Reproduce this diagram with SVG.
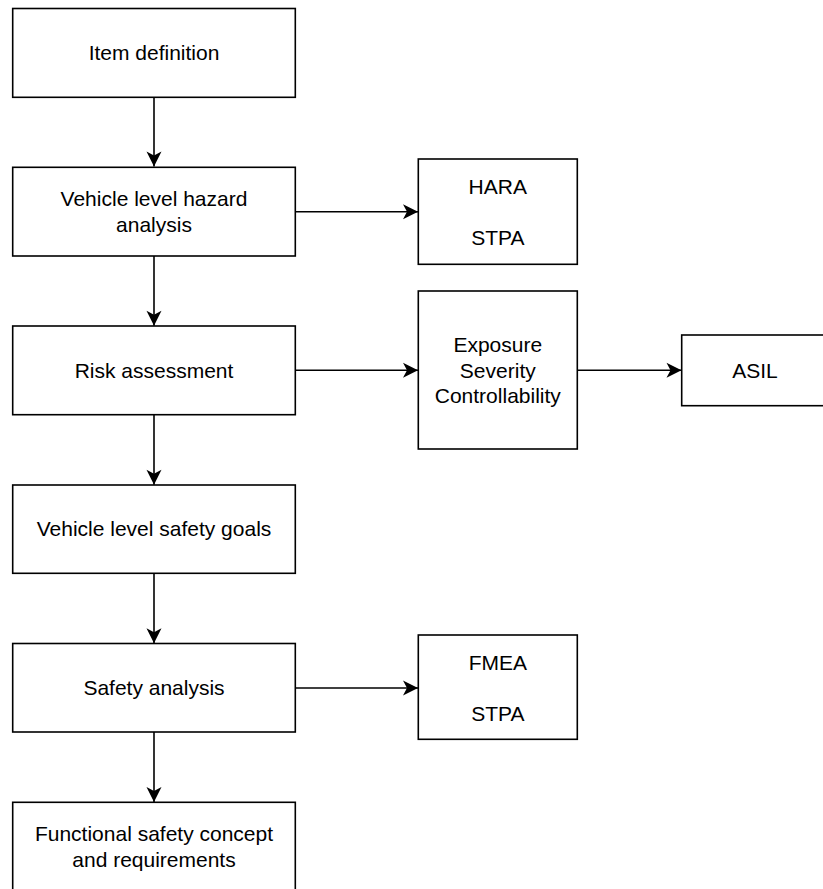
<svg xmlns="http://www.w3.org/2000/svg" width="823" height="889" viewBox="0 0 823 889">
  <style>
    .box { fill: #ffffff; stroke: #000000; stroke-width: 1.6; }
    .lbl { font-family: "Liberation Sans", Arial, Helvetica, sans-serif; font-size: 21px; fill: #000000; text-anchor: middle; }
    .edge { fill: none; stroke: #000000; stroke-width: 1.6; marker-end: url(#arrow); }
  </style>
  <defs>
    <marker id="arrow" markerUnits="userSpaceOnUse" viewBox="-16 -8 17 16" markerWidth="17" markerHeight="16" refX="0" refY="0" orient="auto">
      <path d="M0,0 L-15,-7.5 L-11,0 L-15,7.5 Z" fill="#000000"/>
    </marker>
  </defs>
  <rect width="823" height="889" fill="#ffffff"/>

  <!-- connectors -->
  <g id="connectors">
    <path class="edge" d="M154,97.3 V166.5"/>
    <path class="edge" d="M154,256 V325.8"/>
    <path class="edge" d="M154,414.7 V484.8"/>
    <path class="edge" d="M154,573.3 V643.3"/>
    <path class="edge" d="M154,732 V802"/>
    <path class="edge" d="M295.3,211.7 H418"/>
    <path class="edge" d="M295.3,370.3 H418"/>
    <path class="edge" d="M577.3,370.3 H681.5"/>
    <path class="edge" d="M295.3,688 H418"/>
  </g>

  <!-- main process column -->
  <g id="item-definition">
    <rect class="box" x="12.7" y="8.5" width="282.6" height="88.8"/>
    <text class="lbl" x="154" y="60">Item definition</text>
  </g>
  <g id="hazard-analysis">
    <rect class="box" x="12.7" y="167.3" width="282.6" height="88.7"/>
    <text class="lbl" x="154" y="206.4">Vehicle level hazard</text>
    <text class="lbl" x="154" y="232">analysis</text>
  </g>
  <g id="risk-assessment">
    <rect class="box" x="12.7" y="326" width="282.6" height="88.7"/>
    <text class="lbl" x="154" y="377.6">Risk assessment</text>
  </g>
  <g id="safety-goals">
    <rect class="box" x="12.7" y="485" width="282.6" height="88.3"/>
    <text class="lbl" x="154" y="536.4">Vehicle level safety goals</text>
  </g>
  <g id="safety-analysis">
    <rect class="box" x="12.7" y="643.5" width="282.6" height="88.5"/>
    <text class="lbl" x="154" y="695.2">Safety analysis</text>
  </g>
  <g id="functional-safety-concept">
    <rect class="box" x="12.7" y="802.3" width="282.6" height="95"/>
    <text class="lbl" x="154" y="841.3">Functional safety concept</text>
    <text class="lbl" x="154" y="866.6">and requirements</text>
  </g>

  <!-- method / parameter boxes -->
  <g id="hara-stpa">
    <rect class="box" x="418.3" y="159" width="159" height="105.3"/>
    <text class="lbl" x="497.8" y="193.5">HARA</text>
    <text class="lbl" x="497.8" y="244.5">STPA</text>
  </g>
  <g id="risk-parameters">
    <rect class="box" x="418.3" y="291" width="159" height="158"/>
    <text class="lbl" x="497.8" y="352">Exposure</text>
    <text class="lbl" x="497.8" y="377.6">Severity</text>
    <text class="lbl" x="497.8" y="403.2">Controllability</text>
  </g>
  <g id="asil">
    <rect class="box" x="681.7" y="335" width="147" height="70.7"/>
    <text class="lbl" x="755" y="377.8">ASIL</text>
  </g>
  <g id="fmea-stpa">
    <rect class="box" x="418.3" y="635" width="159" height="104.3"/>
    <text class="lbl" x="497.8" y="669.8">FMEA</text>
    <text class="lbl" x="497.8" y="720.8">STPA</text>
  </g>
</svg>
